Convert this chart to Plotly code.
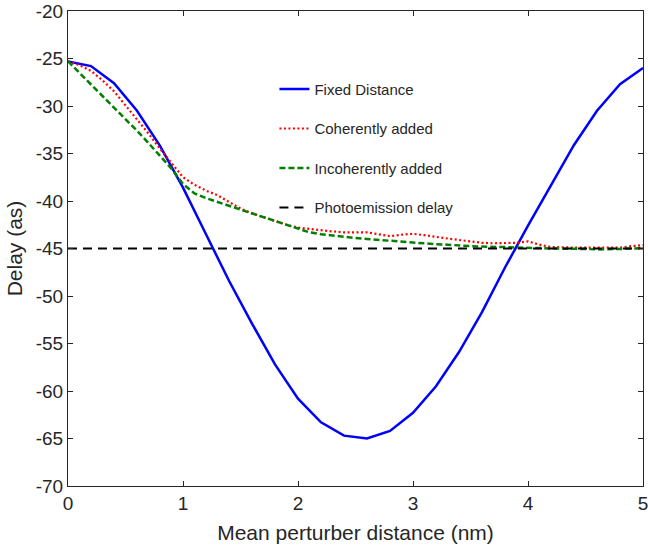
import numpy as np
import plotly.graph_objects as go

# Fixed distance (0.2 nm grid)
x_fixed = [0.0, 0.2, 0.4, 0.6, 0.8, 1.0, 1.2, 1.4, 1.6, 1.8, 2.0, 2.2, 2.4, 2.6,
           2.8, 3.0, 3.2, 3.4, 3.6, 3.8, 4.0, 4.2, 4.4, 4.6, 4.8, 5.0]
y_fixed = [-25.3, -25.8, -27.6, -30.5, -34.2, -38.6, -43.5, -48.4, -52.9, -57.2,
           -60.8, -63.3, -64.7, -65.0, -64.2, -62.3, -59.5, -55.9, -51.7, -47.0,
           -42.6, -38.3, -34.1, -30.5, -27.7, -26.0]

# Coherent / incoherent (0.1 nm grid)
x_avg = [round(0.1 * i, 1) for i in range(51)]
y_coherent = [-25.3, -25.7, -26.3, -27.3, -28.45, -29.9, -31.4, -32.9, -34.5, -36.0,
              -37.5, -38.3, -38.9, -39.4, -40.1, -40.8, -41.3, -41.7, -42.1, -42.5,
              -42.8, -42.95, -43.1, -43.2, -43.3, -43.3, -43.3, -43.5, -43.7, -43.55,
              -43.45, -43.6, -43.8, -43.95, -44.1, -44.25, -44.4, -44.45, -44.45, -44.4,
              -44.25, -44.6, -44.85, -44.9, -44.9, -44.9, -44.9, -44.95, -44.9, -44.75,
              -44.65]
y_incoherent = [-25.3, -26.5, -27.7, -28.9, -30.1, -31.4, -32.6, -33.9, -35.2, -36.6,
                -38.2, -39.2, -39.7, -40.1, -40.5, -40.9, -41.3, -41.7, -42.1, -42.5,
                -42.9, -43.3, -43.5, -43.65, -43.8, -43.9, -44.0, -44.1, -44.2, -44.3,
                -44.4, -44.45, -44.55, -44.6, -44.7, -44.75, -44.8, -44.8, -44.85, -44.9,
                -44.9, -44.95, -45.0, -45.0, -45.05, -45.05, -45.1, -45.1, -45.05, -45.0,
                -44.95]

x_photo = [0.0, 5.0]
y_photo = [-45.0, -45.0]

x_ticks = [0, 1, 2, 3, 4, 5]
x_tick_labels = ["0", "1", "2", "3", "4", "5"]
y_ticks = [-70, -65, -60, -55, -50, -45, -40, -35, -30, -25, -20]
y_tick_labels = ["-70", "-65", "-60", "-55", "-50", "-45", "-40", "-35", "-30", "-25", "-20"]

font_family = "Liberation Sans, Arial, Helvetica, sans-serif"
txt = "#262626"

fig = go.Figure()
fig.add_trace(go.Scatter(x=x_fixed, y=y_fixed, mode="lines", name="Fixed Distance",
                         line=dict(color="#0000FF", width=2.5), legendgroup="a"))
fig.add_trace(go.Scatter(x=x_avg, y=y_coherent, mode="lines", name="Coherently added",
                         line=dict(color="#FF0000", width=2.2, dash="2px,2.5px"), legendgroup="b"))
fig.add_trace(go.Scatter(x=x_avg, y=y_incoherent, mode="lines", name="Incoherently added",
                         line=dict(color="#008000", width=2.5, dash="6px,3px"), legendgroup="c"))
fig.add_trace(go.Scatter(x=x_photo, y=y_photo, mode="lines", name="Photoemission delay",
                         line=dict(color="#000000", width=2.2, dash="9px,6px"), legendgroup="d"))

axis_common = dict(
    showgrid=False, zeroline=False, showline=True, linecolor=txt, linewidth=1,
    mirror="ticks", ticks="inside", ticklen=5, tickcolor=txt, automargin=False,
    ticklabeloverflow="allow",
    tickfont=dict(size=19, color=txt, family=font_family),
)

fig.update_xaxes(range=[0, 5], tickvals=x_ticks, ticktext=x_tick_labels,
                 title=dict(text="Mean perturber distance (nm)", standoff=12,
                            font=dict(size=21, color=txt, family=font_family)),
                 **axis_common)
fig.update_yaxes(range=[-70, -20], tickvals=y_ticks, ticktext=y_tick_labels,
                 title=dict(text="Delay (as)", standoff=7,
                            font=dict(size=21, color=txt, family=font_family)),
                 **axis_common)

fig.update_layout(
    width=648, height=550,
    margin=dict(l=68, r=5, t=11, b=64),
    plot_bgcolor="white", paper_bgcolor="white",
    font=dict(family=font_family, color=txt),
    legend=dict(x=0.359, y=0.870, xanchor="left", yanchor="top",
                bgcolor="rgba(0,0,0,0)", borderwidth=0,
                font=dict(size=15, color=txt, family=font_family),
                tracegroupgap=17, itemwidth=30),
    showlegend=True,
)

fig.write_html("out.html", config={"displayModeBar": False},
               post_script="document.body.style.margin='0px';")
